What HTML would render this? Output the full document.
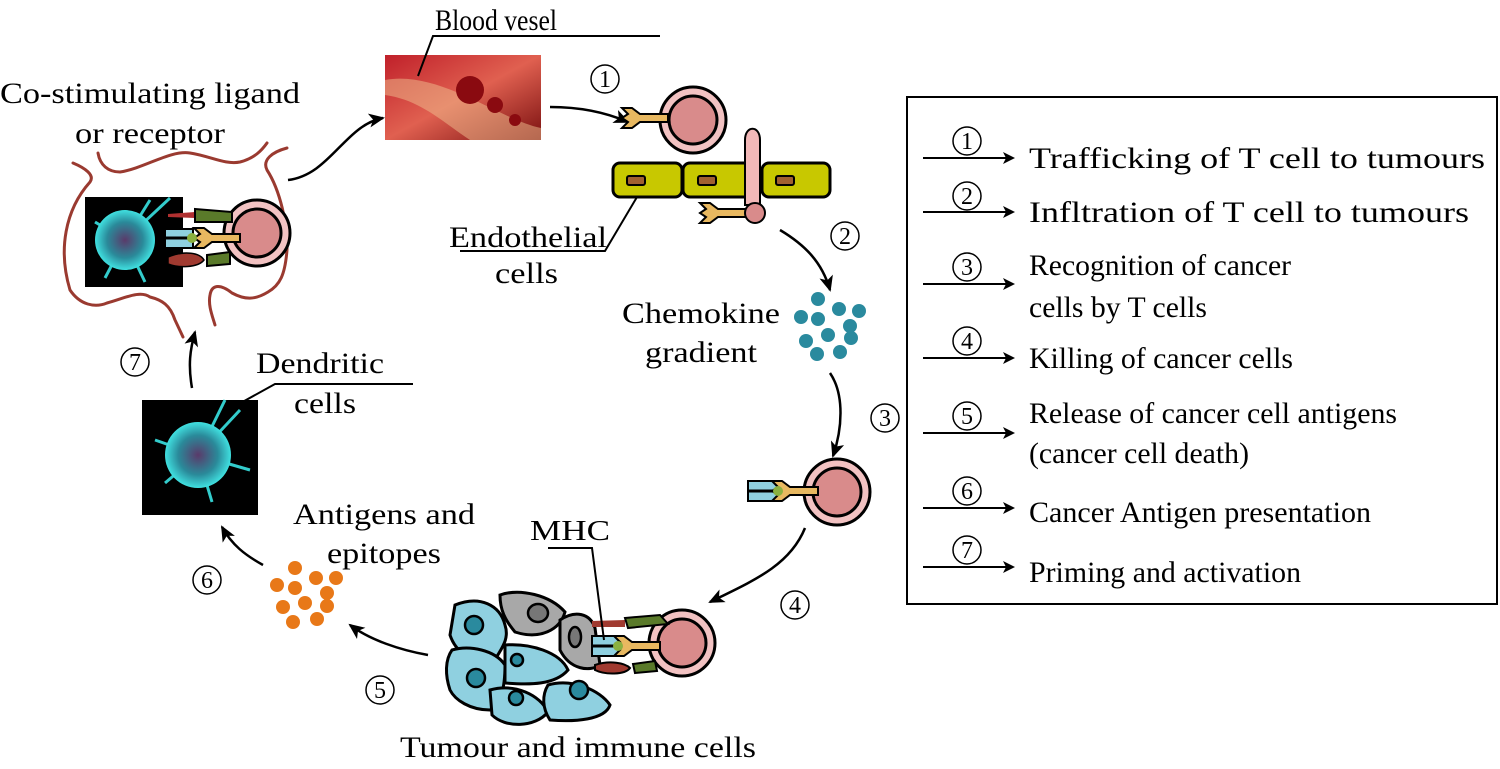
<!DOCTYPE html>
<html><head><meta charset="utf-8"><style>
html,body{margin:0;padding:0;background:#fff;}
svg{display:block;}
text{font-family:"Liberation Serif","Times New Roman",Times,serif;fill:#000;}
</style></head><body>
<svg width="1500" height="769" viewBox="0 0 1500 769" xmlns="http://www.w3.org/2000/svg">
<defs>
<marker id="ah" markerWidth="12" markerHeight="12" refX="10" refY="6" orient="auto" markerUnits="userSpaceOnUse"><path d="M0,0 L12,6 L0,12 L3,6 Z" fill="#000"/></marker>
<marker id="ah2" markerWidth="16" markerHeight="14" refX="14" refY="7" orient="auto" markerUnits="userSpaceOnUse"><path d="M0,0 L16,7 L0,14 L4,7 Z" fill="#000"/></marker>
<radialGradient id="cell" cx="50%" cy="50%" r="50%"><stop offset="0" stop-color="#5a3a6a"/><stop offset="0.6" stop-color="#2a8a9a"/><stop offset="1" stop-color="#40e0e0"/></radialGradient>
<linearGradient id="vessel" x1="0" y1="0" x2="1" y2="1"><stop offset="0" stop-color="#c0202a"/><stop offset="0.5" stop-color="#e06050"/><stop offset="1" stop-color="#7a1010"/></linearGradient>
<g id="tcell"><circle r="33" fill="#f2c2c2" stroke="#000" stroke-width="3"/><circle r="24" fill="#d98b8b" stroke="#000" stroke-width="3"/></g>
<g id="rec"><path d="M0,-4 L28,-4 L28,4 L0,4 L-8,10 L-18,10 L-12,4 L-18,0 L-12,-4 L-18,-10 L-8,-10 Z" fill="#e8b860" stroke="#000" stroke-width="2"/></g>
<circle id="cn" r="14" fill="none" stroke="#000" stroke-width="1.5"/>
</defs>

<!-- Legend -->
<rect x="907" y="97" width="590" height="507" fill="none" stroke="#000" stroke-width="2"/>
<g stroke="#000" stroke-width="2">
<line x1="923" y1="158" x2="1013" y2="158" marker-end="url(#ah)"/>
<line x1="923" y1="212" x2="1013" y2="212" marker-end="url(#ah)"/>
<line x1="923" y1="284" x2="1013" y2="284" marker-end="url(#ah)"/>
<line x1="923" y1="358" x2="1013" y2="358" marker-end="url(#ah)"/>
<line x1="923" y1="433" x2="1013" y2="433" marker-end="url(#ah)"/>
<line x1="923" y1="508" x2="1013" y2="508" marker-end="url(#ah)"/>
<line x1="923" y1="567" x2="1013" y2="567" marker-end="url(#ah)"/>
</g>
<g font-size="24" text-anchor="middle">
<use href="#cn" x="967" y="141"/><text x="967" y="149">1</text>
<use href="#cn" x="967" y="196"/><text x="967" y="204">2</text>
<use href="#cn" x="967" y="267"/><text x="967" y="275">3</text>
<use href="#cn" x="967" y="341"/><text x="967" y="349">4</text>
<use href="#cn" x="967" y="416"/><text x="967" y="424">5</text>
<use href="#cn" x="967" y="491"/><text x="967" y="499">6</text>
<use href="#cn" x="967" y="550"/><text x="967" y="558">7</text>
</g>
<g font-size="30">
<text x="1029" y="168" textLength="456" lengthAdjust="spacingAndGlyphs">Trafficking of T cell to tumours</text>
<text x="1029" y="222" textLength="440" lengthAdjust="spacingAndGlyphs">Infltration of T cell to tumours</text>
<text x="1029" y="275" textLength="262" lengthAdjust="spacingAndGlyphs">Recognition of cancer</text>
<text x="1029" y="317" textLength="178" lengthAdjust="spacingAndGlyphs">cells by T cells</text>
<text x="1029" y="368" textLength="264" lengthAdjust="spacingAndGlyphs">Killing of cancer cells</text>
<text x="1029" y="423" textLength="368" lengthAdjust="spacingAndGlyphs">Release of cancer cell antigens</text>
<text x="1029" y="463" textLength="220" lengthAdjust="spacingAndGlyphs">(cancer cell death)</text>
<text x="1029" y="522" textLength="342" lengthAdjust="spacingAndGlyphs">Cancer Antigen presentation</text>
<text x="1029" y="582" textLength="272" lengthAdjust="spacingAndGlyphs">Priming and activation</text>
</g>

<!-- Top-left: co-stimulating -->
<text x="0" y="103" font-size="30" textLength="300" lengthAdjust="spacingAndGlyphs">Co-stimulating ligand</text>
<text x="75" y="143" font-size="30" textLength="150" lengthAdjust="spacingAndGlyphs">or receptor</text>
<g fill="none" stroke="#9a3a30" stroke-width="3" stroke-linecap="round">
<path d="M98,153 C100,165 108,172 120,172 C145,168 170,150 190,153 C210,156 225,165 240,162 C255,158 262,150 267,143"/>
<path d="M73,163 C85,168 95,175 90,182 C65,210 58,250 70,290 C80,305 95,308 107,303 C125,298 140,290 150,297 C162,300 170,305 175,320 L183,337"/>
<path d="M287,148 C272,152 262,160 267,170 C280,190 288,225 287,250 C285,275 280,285 268,292 C255,300 245,300 232,293 C222,285 212,283 210,295 C208,305 212,315 215,325"/>
</g>
<rect x="85" y="197" width="98" height="90" fill="#000"/>
<g stroke="#3cc" stroke-width="3"><line x1="125" y1="240" x2="95" y2="222"/><line x1="125" y1="240" x2="150" y2="200"/><line x1="125" y1="240" x2="105" y2="278"/><line x1="125" y1="240" x2="145" y2="282"/><line x1="125" y1="240" x2="170" y2="198"/></g>
<circle cx="125" cy="240" r="30" fill="url(#cell)"/>
<use href="#tcell" x="257" y="233"/>
<path d="M168,214 L195,212 L195,218 L168,217 Z" fill="#b03030"/>
<path d="M195,209 L232,212 L232,222 L195,222 Z" fill="#5a7a2a" stroke="#000" stroke-width="2"/>
<rect x="165" y="229" width="28" height="19" fill="#8fd0e0" stroke="#000" stroke-width="2"/>
<line x1="165" y1="238" x2="193" y2="238" stroke="#000" stroke-width="3"/>
<use href="#rec" x="212" y="238"/>
<circle cx="192" cy="238" r="5" fill="#8ab040"/>
<path d="M168,257 C185,250 200,253 204,260 C198,268 178,268 168,264 Z" fill="#a03a30" stroke="#000" stroke-width="1.5"/>
<path d="M207,255 L230,252 L230,264 L207,266 Z" fill="#5a7a2a" stroke="#000" stroke-width="2"/>

<path d="M288,180 C330,175 345,125 383,118" fill="none" stroke="#000" stroke-width="2.5" marker-end="url(#ah2)"/>

<!-- Blood vessel -->
<rect x="385" y="55" width="156" height="85" fill="url(#vessel)"/>
<path d="M385,80 C440,70 500,120 541,128 L541,140 L470,140 C440,120 420,100 385,95 Z" fill="#f0c090" opacity="0.5"/>
<circle cx="470" cy="90" r="14" fill="#8a0a10"/><circle cx="495" cy="105" r="8" fill="#8a0a10"/><circle cx="515" cy="120" r="6" fill="#8a0a10"/>
<text x="435" y="30" font-size="30" textLength="122" lengthAdjust="spacingAndGlyphs">Blood vesel</text>
<polyline points="660,36 433,36 418,76" fill="none" stroke="#000" stroke-width="2"/>
<use href="#cn" x="605" y="79"/><text x="605" y="87" font-size="24" text-anchor="middle">1</text>
<path d="M550,107 C580,107 605,112 628,122" fill="none" stroke="#000" stroke-width="2.5" marker-end="url(#ah2)"/>

<!-- T cell 1 & endothelium -->
<use href="#tcell" x="693" y="120"/>
<use href="#rec" x="640" y="118"/>
<g stroke="#000" stroke-width="3" fill="#c8c800">
<rect x="613" y="163" width="69" height="34" rx="7"/>
<rect x="683" y="163" width="68" height="34" rx="7"/>
<rect x="762" y="163" width="68" height="34" rx="7"/>
</g>
<g fill="#a06030" stroke="#000" stroke-width="2"><rect x="627" y="176" width="18" height="9" rx="2"/><rect x="698" y="176" width="18" height="9" rx="2"/><rect x="776" y="176" width="18" height="9" rx="2"/></g>
<path d="M745,205 L745,140 C745,125 760,125 760,140 L760,205 Z" fill="#f2b8b8" stroke="#000" stroke-width="2"/>
<use href="#rec" x="718" y="213"/>
<circle cx="755" cy="213" r="10" fill="#d98b8b" stroke="#000" stroke-width="2"/>
<text x="449" y="247" font-size="30" textLength="158" lengthAdjust="spacingAndGlyphs">Endothelial</text>
<text x="495" y="283" font-size="30" textLength="63" lengthAdjust="spacingAndGlyphs">cells</text>
<polyline points="637,197 605,251 460,251" fill="none" stroke="#000" stroke-width="2"/>

<path d="M780,230 C805,245 822,262 830,290" fill="none" stroke="#000" stroke-width="2.5" marker-end="url(#ah2)"/>
<use href="#cn" x="845" y="236"/><text x="845" y="244" font-size="24" text-anchor="middle">2</text>
<text x="622" y="323" font-size="30" textLength="158" lengthAdjust="spacingAndGlyphs">Chemokine</text>
<text x="645" y="362" font-size="30" textLength="112" lengthAdjust="spacingAndGlyphs">gradient</text>
<g fill="#2a8a9e"><circle cx="818" cy="299" r="7"/><circle cx="801" cy="317" r="7"/><circle cx="818" cy="319" r="7"/><circle cx="839" cy="309" r="7"/><circle cx="859" cy="311" r="7"/><circle cx="850" cy="326" r="7"/><circle cx="828" cy="335" r="7"/><circle cx="806" cy="341" r="7"/><circle cx="851" cy="338" r="7"/><circle cx="817" cy="354" r="7"/><circle cx="840" cy="352" r="7"/></g>

<path d="M830,373 C845,395 842,430 833,456" fill="none" stroke="#000" stroke-width="2.5" marker-end="url(#ah2)"/>
<use href="#cn" x="885" y="418"/><text x="885" y="426" font-size="24" text-anchor="middle">3</text>
<use href="#tcell" x="837" y="492"/>
<rect x="748" y="481" width="32" height="20" fill="#8fd0e0" stroke="#000" stroke-width="2"/>
<line x1="748" y1="491" x2="780" y2="491" stroke="#000" stroke-width="3"/>
<use href="#rec" x="790" y="491"/>
<circle cx="778" cy="491" r="5" fill="#8ab040"/>

<path d="M805,528 C790,565 755,580 710,602" fill="none" stroke="#000" stroke-width="2.5" marker-end="url(#ah2)"/>
<use href="#cn" x="795" y="605"/><text x="795" y="613" font-size="24" text-anchor="middle">4</text>

<!-- Tumour cluster -->
<g stroke="#000" stroke-width="3">
<path d="M455,605 C480,595 500,605 505,625 C510,640 500,650 495,660 C470,665 455,650 450,635 Z" fill="#8fd0e0"/>
<path d="M452,650 C470,645 495,650 505,665 C505,690 500,705 490,710 C470,710 455,700 450,690 C445,675 445,660 452,650 Z" fill="#8fd0e0"/>
<path d="M500,595 C520,588 550,595 565,612 C560,630 540,640 515,632 C505,620 500,610 500,595 Z" fill="#a8a8a8"/>
<path d="M505,645 C530,643 560,652 568,670 C555,685 530,685 505,683 Z" fill="#8fd0e0"/>
<path d="M490,690 C515,683 540,695 548,712 C535,728 505,728 492,715 Z" fill="#8fd0e0"/>
<path d="M548,685 C572,678 600,690 610,705 C605,720 575,722 550,720 C542,708 542,695 548,685 Z" fill="#8fd0e0"/>
<path d="M560,620 C575,610 590,613 595,628 L600,665 C590,672 570,670 560,650 Z" fill="#a8a8a8"/>
</g>
<g fill="#2a8a9e" stroke="#000" stroke-width="2.5"><circle cx="474" cy="625" r="9"/><circle cx="476" cy="678" r="9"/><circle cx="517" cy="660" r="6"/><circle cx="516" cy="698" r="7"/><circle cx="579" cy="690" r="9"/></g>
<g fill="#777" stroke="#000" stroke-width="2.5"><ellipse cx="538" cy="613" rx="10" ry="9"/><ellipse cx="575" cy="637" rx="6" ry="10"/></g>
<use href="#tcell" x="682" y="643"/>
<path d="M592,621 L625,620 L625,627 L592,627 Z" fill="#a03a30"/>
<path d="M625,618 L660,615 L668,624 L628,628 Z" fill="#5a7a2a" stroke="#000" stroke-width="2"/>
<rect x="592" y="636" width="28" height="20" fill="#8fd0e0" stroke="#000" stroke-width="2"/>
<line x1="592" y1="646" x2="620" y2="646" stroke="#000" stroke-width="3"/>
<use href="#rec" x="632" y="646"/>
<circle cx="618" cy="646" r="5" fill="#8ab040"/>
<path d="M595,665 C610,660 625,663 630,668 C625,675 605,675 595,670 Z" fill="#a03a30" stroke="#000" stroke-width="2"/>
<path d="M633,664 L655,661 L657,671 L635,673 Z" fill="#5a7a2a" stroke="#000" stroke-width="2"/>
<text x="530" y="540" font-size="28" textLength="80" lengthAdjust="spacingAndGlyphs">MHC</text>
<polyline points="548,548 592,548 604,640" fill="none" stroke="#000" stroke-width="2"/>
<text x="400" y="757" font-size="30" textLength="356" lengthAdjust="spacingAndGlyphs">Tumour and immune cells</text>

<path d="M428,655 C400,650 370,640 350,625" fill="none" stroke="#000" stroke-width="2.5" marker-end="url(#ah2)"/>
<use href="#cn" x="380" y="690"/><text x="380" y="698" font-size="24" text-anchor="middle">5</text>

<g fill="#e87818"><circle cx="295" cy="568" r="7"/><circle cx="277" cy="585" r="7"/><circle cx="295" cy="588" r="7"/><circle cx="316" cy="578" r="7"/><circle cx="336" cy="578" r="7"/><circle cx="327" cy="593" r="7"/><circle cx="305" cy="603" r="7"/><circle cx="283" cy="607" r="7"/><circle cx="327" cy="606" r="7"/><circle cx="293" cy="622" r="7"/><circle cx="317" cy="619" r="7"/></g>
<text x="293" y="524" font-size="30" textLength="182" lengthAdjust="spacingAndGlyphs">Antigens and</text>
<text x="327" y="563" font-size="30" textLength="114" lengthAdjust="spacingAndGlyphs">epitopes</text>
<path d="M263,565 C245,555 232,545 222,527" fill="none" stroke="#000" stroke-width="2.5" marker-end="url(#ah2)"/>
<use href="#cn" x="207" y="580"/><text x="207" y="588" font-size="24" text-anchor="middle">6</text>

<rect x="142" y="400" width="116" height="115" fill="#000"/>
<g stroke="#3cc" stroke-width="3"><line x1="198" y1="455" x2="155" y2="440"/><line x1="198" y1="455" x2="250" y2="470"/><line x1="198" y1="455" x2="165" y2="483"/><line x1="198" y1="455" x2="225" y2="400"/><line x1="198" y1="455" x2="212" y2="502"/><line x1="198" y1="455" x2="240" y2="410"/></g>
<circle cx="198" cy="455" r="33" fill="url(#cell)"/>
<text x="256" y="373" font-size="30" textLength="128" lengthAdjust="spacingAndGlyphs">Dendritic</text>
<text x="294" y="413" font-size="30" textLength="62" lengthAdjust="spacingAndGlyphs">cells</text>
<polyline points="413,384 275,384 228,410" fill="none" stroke="#000" stroke-width="2"/>
<path d="M192,388 C188,365 190,350 195,332" fill="none" stroke="#000" stroke-width="2.5" marker-end="url(#ah2)"/>
<use href="#cn" x="135" y="362"/><text x="135" y="370" font-size="24" text-anchor="middle">7</text>
</svg>
</body></html>
